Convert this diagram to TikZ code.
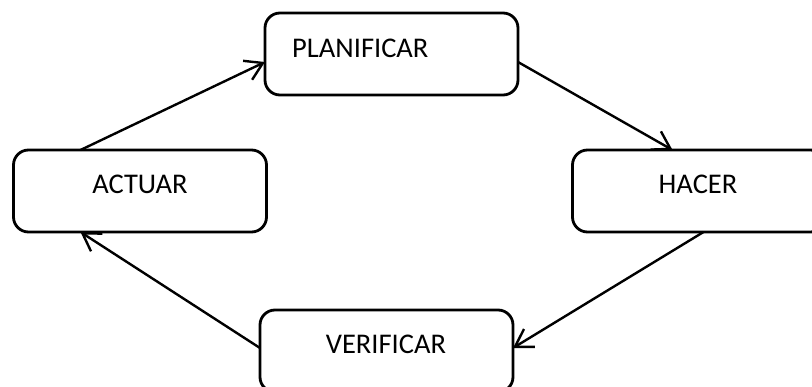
\documentclass[tikz,border=0pt]{standalone}
\usepackage{fontspec}
\setmainfont{Carlito}
\usetikzlibrary{arrows.meta,calc}
\begin{document}
\begin{tikzpicture}[x=1pt,y=-1pt,
  box/.style={draw,line width=2.8pt,rounded corners=15pt,minimum width=253pt,minimum height=82pt,inner sep=0pt,outer sep=0pt},
  lbl/.style={font=\fontsize{28.5}{34}\selectfont,inner sep=0pt},
  conn/.style={line width=2.4pt,-{Straight Barb[length=17pt,width=21pt,line width=2.4pt]}}]
\useasboundingbox (0,0) rectangle (812,386);
\clip (0,0) rectangle (812,386);
\node[box] (plan) at (391.5,54) {};
\node[box] (act) at (140,191) {};
\node[box] (hac) at (699,191) {};
\node[box] (ver) at (386.5,351) {};
\node[lbl,anchor=west] (tplan) at (292,48) {PLANIFICAR};
\node[lbl] (tact) at (140,184) {ACTUAR};
\node[lbl] (thac) at (698,184) {HACER};
\node[lbl] (tver) at (386,344) {VERIFICAR};
\draw[conn] ($(act.north west)+(67,0)$) -- ($(plan.north west)+(0,49)$);
\draw[conn] ($(plan.north east)+(0,49)$) -- ($(hac.north west)+(100,0)$);
\draw[conn] ($(hac.south west)+(131,0)$) -- ($(ver.north east)+(0,38)$);
\draw[conn] ($(ver.north west)+(0,38)$) -- ($(act.south west)+(67,0)$);
\end{tikzpicture}
\end{document}
